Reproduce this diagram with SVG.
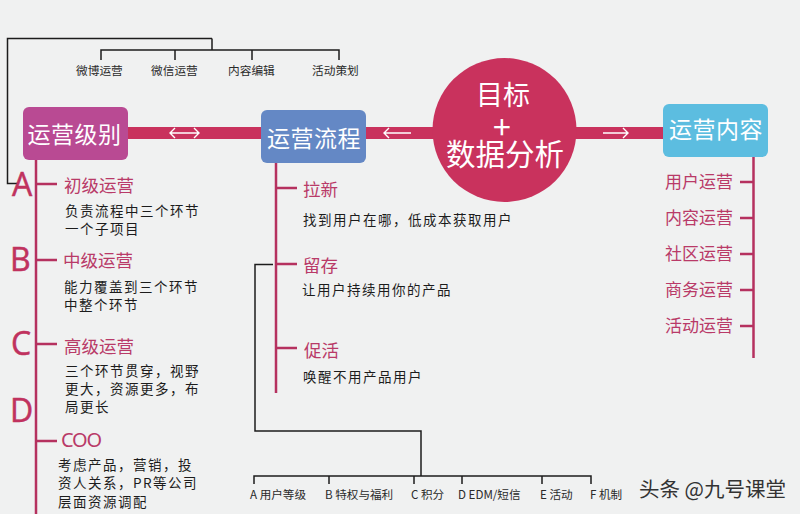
<svg xmlns="http://www.w3.org/2000/svg" width="800" height="514" viewBox="0 0 800 514">
<style>
text{font-family:"Noto Sans CJK SC","Noto Sans",sans-serif}
.bk{fill:none;stroke:#1c1c1c;stroke-width:1.5}
.sp{fill:none;stroke:#b5315f;stroke-width:2.5}
.ar{fill:none;stroke:#fff;stroke-width:1.4}
.hd{fill:#fff;font-size:23px;letter-spacing:.5px;text-anchor:middle}
.ci{fill:#fff;text-anchor:middle}
.pk{fill:#b93a68;font-size:17.5px}
.rt{fill:#b93a68;font-size:17px}
.bd{fill:#1c1c1c;font-size:13.5px;letter-spacing:1.5px}
.sm{fill:#2a2a2a;font-size:11.7px}
.lb{fill:#2a2a2a;font-size:11.6px}
.lt{fill:#c0325e;stroke:#c0325e;stroke-width:.5;font-size:32px;font-family:"Open Sans","Noto Sans",sans-serif}
</style>
<rect width="800" height="514" fill="#f0f1f1"/>
<g id="connectors">
<rect x="128" y="127" width="535" height="12" fill="#c9325d"/>
<path class="ar" d="M170 133H199M175 128L170 133L175 138M194 128L199 133L194 138"/>
<path class="ar" d="M384 133H411M389 128L384 133L389 138"/>
<path class="ar" d="M603 133H628M623 128L628 133L623 138"/>
<path class="bk" d="M212 38.500H7.500V183.500H18M212 38.500V50M101 60V50H339V60M175 50V60M252 50V60"/>
<path class="bk" d="M273 264.500H255V431H421V476M254 484V476H591V484M329 476V484M414 476V484M462 476V484M542 476V484"/>
<path class="sp" d="M36 160V514M36 184H57M36 260H57M36 344H57M36 441H57"/>
<path class="sp" d="M276 163V393M276 188H297M276 264H297M276 348H297"/>
<path class="sp" d="M753.500 157V358M740 182H753M740 218H753M740 254H753M740 290H753M740 326H753"/>
</g>
<g id="node-levels"><rect x="23" y="107" width="105" height="53" rx="6" fill="#b94a93"/><text class="hd" x="74.500" y="143">运营级别</text></g>
<g id="node-process"><rect x="261" y="110" width="105" height="53" rx="6" fill="#6488c5"/><text class="hd" x="314" y="147">运营流程</text></g>
<g id="node-goal"><circle cx="504.500" cy="130" r="72" fill="#c9325d"/><text class="ci" x="503" y="105" font-size="27">目标</text><text class="ci" x="502" y="139" font-size="32">+</text><text class="ci" x="505" y="165" font-size="29.500">数据分析</text></g>
<g id="node-content"><rect x="663" y="104" width="105" height="53" rx="6" fill="#5cbde0"/><text class="hd" x="716" y="138">运营内容</text></g>
<g id="top-roles">
<text class="sm" x="76" y="75">微博运营</text><text class="sm" x="151" y="75">微信运营</text><text class="sm" x="228" y="75">内容编辑</text><text class="sm" x="312" y="75">活动策划</text>
</g>
<g id="level-a"><text class="lt" x="12" y="196">A</text><text class="pk" x="64" y="192">初级运营</text><text class="bd" x="65" y="216">负责流程中三个环节</text><text class="bd" x="65" y="234">一个子项目</text></g>
<g id="level-b"><text class="lt" x="10" y="271">B</text><text class="pk" x="63" y="267">中级运营</text><text class="bd" x="64" y="292">能力覆盖到三个环节</text><text class="bd" x="64" y="310">中整个环节</text></g>
<g id="level-c"><text class="lt" x="11" y="355">C</text><text class="pk" x="64" y="353">高级运营</text><text class="bd" x="65" y="376">三个环节贯穿，视野</text><text class="bd" x="65" y="394">更大，资源更多，布</text><text class="bd" x="65" y="412">局更长</text></g>
<g id="level-d"><text class="lt" x="10" y="422">D</text><text x="61" y="447" fill="#b93a68" font-size="20" letter-spacing="-1.2" style="font-family:'Noto Sans',sans-serif">COO</text><text class="bd" x="58" y="470">考虑产品，营销，投</text><text class="bd" x="58" y="488">资人关系，PR等公司</text><text class="bd" x="58" y="507">层面资源调配</text></g>
<g id="step-1"><text class="pk" x="303" y="196">拉新</text><text class="bd" x="303" y="225">找到用户在哪，低成本获取用户</text></g>
<g id="step-2"><text class="pk" x="303" y="272">留存</text><text class="bd" x="302" y="295">让用户持续用你的产品</text></g>
<g id="step-3"><text class="pk" x="304" y="357">促活</text><text class="bd" x="303" y="382">唤醒不用产品用户</text></g>
<g id="content-items">
<text class="rt" x="665" y="188">用户运营</text><text class="rt" x="665" y="224">内容运营</text><text class="rt" x="665" y="260">社区运营</text><text class="rt" x="665" y="296">商务运营</text><text class="rt" x="665" y="332">活动运营</text>
</g>
<g id="mechanisms">
<text class="lb" x="250" y="499">A 用户等级</text><text class="lb" x="325" y="499">B 特权与福利</text><text class="lb" x="411" y="499">C 积分</text><text class="lb" x="458" y="499">D EDM/短信</text><text class="lb" x="540" y="499">E 活动</text><text class="lb" x="590" y="499">F 机制</text>
</g>
<text x="639" y="497" fill="#333" font-size="20.500">头条 @九号课堂</text>
</svg>
